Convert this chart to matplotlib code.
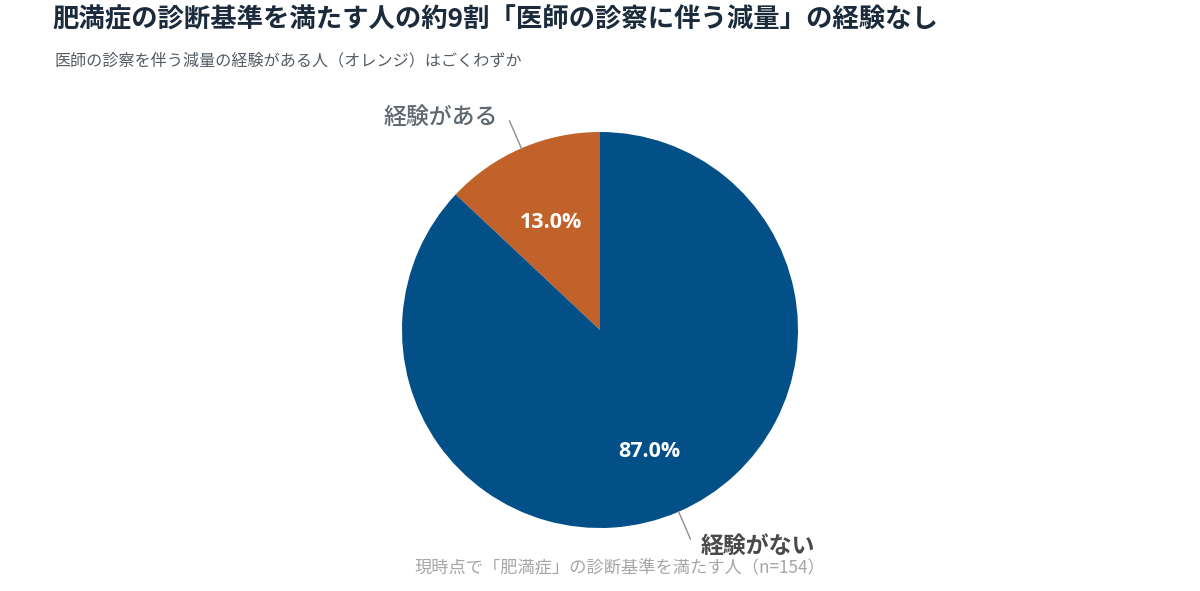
import numpy as np
import matplotlib.pyplot as plt

plt.rcParams['font.family'] = ['Noto Sans CJK JP', 'DejaVu Sans']

title = "肥満症の診断基準を満たす人の約9割「医師の診察に伴う減量」の経験なし"
subtitle = "医師の診察を伴う減量の経験がある人（オレンジ）はごくわずか"
caption = "現時点で「肥満症」の診断基準を満たす人（n=154）"

labels = ["経験がある", "経験がない"]
values = [13.0, 87.0]
colors = ["#c1622b", "#034f88"]

fig = plt.figure(figsize=(12, 5.91), dpi=100)
fig.patch.set_facecolor("white")

fig.text(52 / 1200, 1 - 20 / 591, title, fontsize=19, fontweight="bold",
         color="#1b2b3c", ha="left", va="center")
fig.text(55 / 1200, 1 - 61 / 591, subtitle, fontsize=11.6,
         color="#555c63", ha="left", va="center")
fig.text(620 / 1200, 1 - 568 / 591, caption, fontsize=12.4,
         color="#a6a6a6", ha="center", va="center")

# pie: centre (600, 330), radius 198 px
ax = fig.add_axes([(600 - 198) / 1200, (591 - 330 - 198) / 591,
                   396 / 1200, 396 / 591])
wedges, texts, autotexts = ax.pie(
    values, colors=colors, startangle=90, counterclock=True,
    autopct="%.1f%%", pctdistance=0.63, radius=1.0,
    wedgeprops=dict(linewidth=0))
for t in autotexts:
    t.set_family(["Open Sans", "DejaVu Sans"])
    t.set_color("white")
    t.set_fontsize(15.5)
    t.set_fontweight("bold")
    x, y = t.get_position()
    t.set_position((x, y - 0.035))
ax.set_xlim(-1, 1)
ax.set_ylim(-1, 1)
ax.set_aspect("equal")
ax.axis("off")

# leader lines and outside labels
label_colors = ["#5f6770", "#4a4a4a"]
label_weights = ["medium", "bold"]
start = 90.0
for i, (lab, v) in enumerate(zip(labels, values)):
    mid = np.deg2rad(start + v * 3.6 / 2)
    start += v * 3.6
    x0, y0 = 1.0 * np.cos(mid), 1.0 * np.sin(mid)
    x1, y1 = 1.15 * np.cos(mid), 1.15 * np.sin(mid)
    ax.plot([x0, x1], [y0, y1], color="#8a8f94", lw=1.0, clip_on=False)
    ha = "right" if x1 < 0 else "left"
    dx = -0.06 if x1 < 0 else 0.05
    ax.text(x1 + dx, y1 + (0.02 if y1 > 0 else -0.04), lab, fontsize=16.5,
            fontweight=label_weights[i], color=label_colors[i],
            ha=ha, va="center", clip_on=False)

fig.savefig("out.png", dpi=100)
